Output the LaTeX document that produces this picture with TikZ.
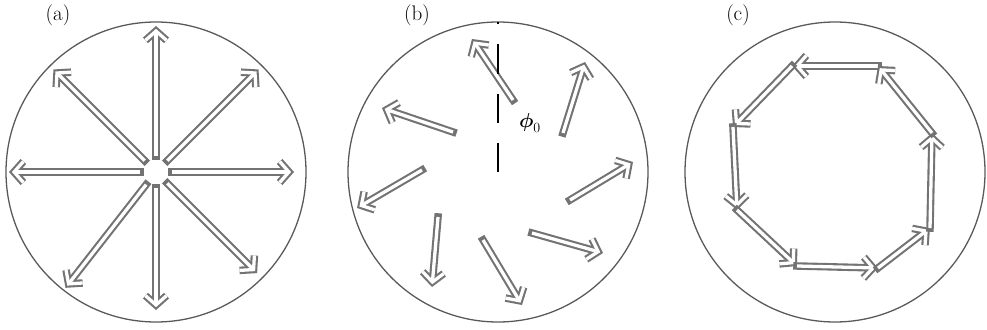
\documentclass[tikz,border=0pt]{standalone}
\usepackage{amsmath,amssymb}
\usepackage{xcolor}
\usetikzlibrary{arrows.meta,calc}

\begin{document}
\begin{tikzpicture}[
  x=0.03cm, y=0.03cm,
  rim/.style={draw=black!65, line width=1.1pt},
  pol/.style={draw=white, line width=2.8pt, shorten >=2.4pt,
              -{Straight Barb[length=8pt, width=18pt]},
              preaction={draw=black!55, line width=6.4pt, line cap=rect, shorten >=0pt,
                         -{Straight Barb[length=8pt, width=18pt]}}},
  axis/.style={draw=black, line width=2.2pt, dash pattern=on 25pt off 17pt},
  tag/.style={font=\fontsize{18}{21}\selectfont}
]
  \useasboundingbox (0,0) rectangle (987,329);

  % (a) radial
  \coordinate (A0) at (156,157);
  \draw[rim] (A0) circle (150);
  \node[tag] (la) at (58,314) {(a)};
  \foreach \ang/\len in {0/138, 45/145, 90/146, 135/145, 180/147, 232/147, 270/138, 315/143}
    \draw[pol] ($(A0)+(\ang:16)$) -- ($(A0)+(\ang:\len)$);

  % (b) rotated
  \coordinate (B0) at (498,157);
  \draw[rim] (B0) circle (150);
  \node[tag] (lb) at (417,314) {(b)};
  \foreach \xa/\ya/\xb/\yb in {513/229/472/290, 563/196/585/267, 570/129/633/167,
                               532/96/603/76, 483/89/522/24, 438/112/432/42,
                               422/159/357/121, 453/197/382/221}
    \draw[pol] (\xa,\ya) -- (\xb,\yb);
  \draw[axis] (B0) -- (498,307);
  \node[tag] (phi) at (530,206) {$\boldsymbol{\phi}_{0}$};

  % (c) azimuthal
  \coordinate (C0) at (835,157);
  \draw[rim] (C0) circle (150);
  \node[tag] (lc) at (738,314) {(c)};
  \coordinate (c1) at (878,263);
  \coordinate (c2) at (792,263);
  \coordinate (c3) at (733,202);
  \coordinate (c4) at (737,119);
  \coordinate (c5) at (797,63);
  \coordinate (c6) at (878,61);
  \coordinate (c7) at (930,101);
  \coordinate (c8) at (932,196);
  \draw[pol] (c1) -- (c2);
  \draw[pol] (c2) -- (c3);
  \draw[pol] (c3) -- (c4);
  \draw[pol] (c4) -- (c5);
  \draw[pol] (c5) -- (c6);
  \draw[pol] (c6) -- (c7);
  \draw[pol] (c7) -- (c8);
  \draw[pol] (c8) -- (c1);
\end{tikzpicture}
\end{document}
